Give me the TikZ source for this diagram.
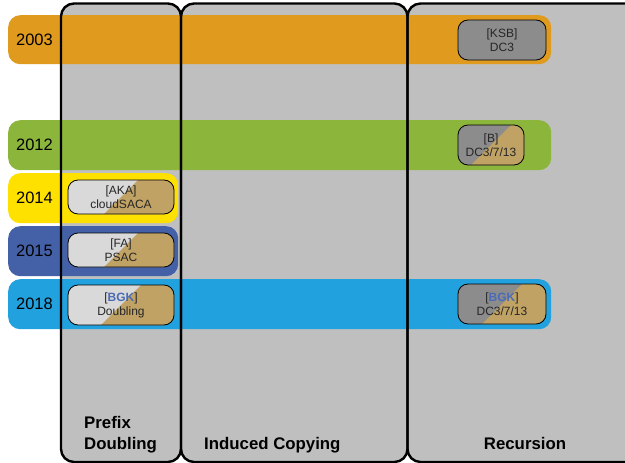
\documentclass[tikz,border=0pt]{standalone}
\usepackage{fontspec}
\setmainfont{Liberation Sans}
\definecolor{colgray}{RGB}{191,191,191}
\definecolor{barorange}{RGB}{224,155,31}
\definecolor{bargreen}{RGB}{140,181,60}
\definecolor{baryellow}{RGB}{255,225,0}
\definecolor{bardarkblue}{RGB}{68,97,168}
\definecolor{barblue}{RGB}{33,161,222}
\definecolor{boxgray}{RGB}{140,140,140}
\definecolor{boxlight}{RGB}{217,217,217}
\definecolor{boxtan}{RGB}{192,162,100}
\definecolor{refblue}{RGB}{74,107,181}
\tikzset{
  yearbar/.style={fill=#1, rounded corners=12pt, inner sep=0pt, anchor=north west},
  yearlabel/.style={font=\fontsize{16.5}{20}\selectfont, inner sep=0pt},
  colborder/.style={draw=black, line width=2.4pt, rounded corners=13pt},
  algobox/.style={draw=black, line width=0.8pt, rounded corners=10pt, inner sep=0pt,
    font=\fontsize{12}{14}\selectfont, text=black!85, align=center},
  halfbox/.style 2 args={algobox, fill=#1, path picture={
    \fill[#2] ([shift={(-80,80)}]path picture bounding box.center)
      -- ([shift={(80,-80)}]path picture bounding box.center)
      -- ([shift={(80,80)}]path picture bounding box.center) -- cycle;}},
  collabel/.style={font=\bfseries\fontsize{16.8}{21.5}\selectfont, inner sep=0pt, align=left}
}
\begin{document}
\begin{tikzpicture}[x=1pt,y=-1pt]
\useasboundingbox (0,0) rectangle (625,463);
\clip (0,0) rectangle (625,463);

% column backgrounds
\fill[colgray, rounded corners=13pt] (61,3.5) rectangle (181,462);
\fill[colgray, rounded corners=13pt] (181,3.5) rectangle (407.5,462);
\fill[colgray, rounded corners=13pt] (407.5,3.5) rectangle (650,462);

% year bars
\node[yearbar=barorange, minimum width=543pt, minimum height=49pt] (bar2003) at (8,15) {};
\node[yearbar=bargreen, minimum width=543pt, minimum height=50pt] (bar2012) at (8,120) {};
\node[yearbar=baryellow, minimum width=170pt, minimum height=50pt] (bar2014) at (8,173) {};
\node[yearbar=bardarkblue, minimum width=170pt, minimum height=50pt] (bar2015) at (8,226) {};
\node[yearbar=barblue, minimum width=543pt, minimum height=50pt] (bar2018) at (8,279) {};

\node[yearlabel] (y2003) at (34.5,40) {2003};
\node[yearlabel] (y2012) at (34.5,145) {2012};
\node[yearlabel] (y2014) at (34.5,198) {2014};
\node[yearlabel] (y2015) at (34.5,251) {2015};
\node[yearlabel] (y2018) at (34.5,304) {2018};

% column outlines
\draw[colborder] (61,3.5) rectangle (181,462);
\draw[colborder] (181,3.5) rectangle (407.5,462);
\draw[colborder] (407.5,3.5) rectangle (650,462);

% algorithms
\node[algobox, fill=boxgray, minimum width=88pt, minimum height=40pt] (ksb) at (502,40) {[KSB]\\DC3};
\node[halfbox={boxgray}{boxtan}, minimum width=66pt, minimum height=40pt] (b) at (491,145) {[B]\\DC3/7/13};
\node[halfbox={boxlight}{boxtan}, minimum width=106pt, minimum height=34pt] (aka) at (121,197) {[AKA]\\cloudSACA};
\node[halfbox={boxlight}{boxtan}, minimum width=106pt, minimum height=34pt] (fa) at (121,250) {[FA]\\PSAC};
\node[halfbox={boxlight}{boxtan}, minimum width=106pt, minimum height=40pt] (bgkd) at (121,305) {[\textcolor{refblue}{\bfseries BGK}]\\Doubling};
\node[halfbox={boxgray}{boxtan}, minimum width=88pt, minimum height=40pt] (bgkr) at (502,304) {[\textcolor{refblue}{\bfseries BGK}]\\DC3/7/13};

% column titles
\node[collabel, anchor=base west] (prefix) at (84,449.5) {Prefix\\Doubling};
\node[collabel, anchor=base west] (induced) at (204,449.5) {Induced Copying};
\node[collabel, anchor=base] (recursion) at (525,449.5) {Recursion};
\end{tikzpicture}
\end{document}
